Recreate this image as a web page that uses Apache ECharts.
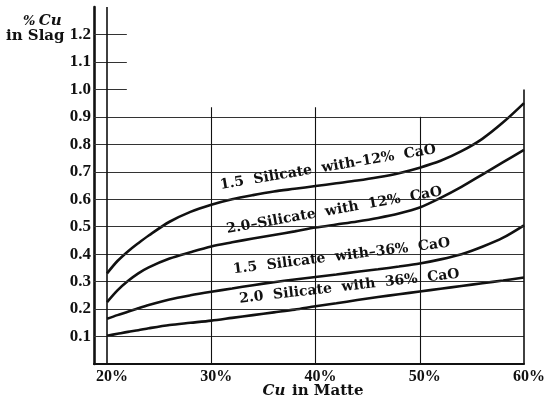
<!DOCTYPE html>
<html>
<head>
<meta charset="utf-8">
<script src="https://cdn.jsdelivr.net/npm/echarts@6/dist/echarts.min.js"></script>
<style>html,body{margin:0;padding:0;background:#fff}#c{width:548px;height:410px}</style>
</head>
<body>
<div id="c"></div>
<script>
// ---- data ----
const cuMatte = [20, 21, 22, 23, 24, 26, 28, 30, 32, 34, 36, 38, 40, 42, 44, 46, 48, 50, 52, 54, 56, 58, 60];
const sil15Ca12 = [0.33, 0.375, 0.41, 0.44, 0.468, 0.518, 0.554, 0.58, 0.60, 0.615, 0.628, 0.638, 0.648, 0.658, 0.668, 0.68, 0.695, 0.715, 0.74, 0.775, 0.82, 0.88, 0.95];
const sil20Ca12 = [0.225, 0.268, 0.302, 0.33, 0.352, 0.384, 0.407, 0.428, 0.443, 0.457, 0.47, 0.483, 0.497, 0.508, 0.519, 0.532, 0.548, 0.57, 0.605, 0.645, 0.69, 0.735, 0.78];
const sil15Ca36 = [0.165, 0.178, 0.19, 0.203, 0.215, 0.235, 0.25, 0.263, 0.275, 0.287, 0.298, 0.308, 0.317, 0.326, 0.336, 0.345, 0.355, 0.366, 0.381, 0.40, 0.427, 0.46, 0.505];
const sil20Ca36 = [0.103, 0.11, 0.117, 0.123, 0.13, 0.142, 0.15, 0.158, 0.168, 0.178, 0.188, 0.198, 0.21, 0.221, 0.233, 0.244, 0.254, 0.264, 0.274, 0.284, 0.294, 0.304, 0.315];
const seriesNames = ['1.5  Silicate  with–12%  CaO', '2.0–Silicate  with  12%  CaO', '1.5  Silicate  with–36%  CaO', '2.0  Silicate  with  36%  CaO'];
const xTicks = [20, 30, 40, 50, 60];
const yTicksFull = [0.1, 0.2, 0.3, 0.4, 0.5, 0.6, 0.7, 0.8, 0.9];
const yTicksStub = [1.0, 1.1, 1.2];
const xGridTops = [1.3, 0.935, 0.935, 0.9, 1.0];
// label anchors (data coords) and rotation
const labelAnchors = [[41.2, 0.716], [41.8, 0.559], [42.5, 0.392], [43.25, 0.282]];
const labelAngles = [9.5, 10, 7, 6.5];

const X_MIN = 18.75, X_MAX = 60, Y_MIN = 0, Y_MAX = 1.3;
const INK = '#111';
const SERIF = "'DejaVu Serif', 'Liberation Serif', serif";
const NUMF = "'Liberation Serif', 'DejaVu Serif', serif";

const allY = [sil15Ca12, sil20Ca12, sil15Ca36, sil20Ca36];

const gridLines = [];
yTicksFull.forEach(v => gridLines.push([{coord: [X_MIN, v], lineStyle: {color: '#333', width: 1, type: 'solid'}}, {coord: [X_MAX, v]}]));
yTicksStub.forEach(v => gridLines.push([{coord: [X_MIN, v], lineStyle: {color: '#333', width: 1, type: 'solid'}}, {coord: [21.9, v]}]));
xTicks.forEach((x, i) => gridLines.push([{coord: [x, Y_MIN], lineStyle: {color: INK, width: (i === 0 || i === 4) ? 1.6 : 1.1, type: 'solid'}}, {coord: [x, xGridTops[i]]}]));

const series = [{
  type: 'line', data: [], silent: true,
  markLine: {silent: true, symbol: ['none', 'none'], label: {show: false}, animation: false, data: gridLines}
}];
allY.forEach((ys, i) => {
  series.push({
    type: 'line', name: seriesNames[i], smooth: 0.3, symbol: 'none', animation: false,
    lineStyle: {color: INK, width: 2.6},
    data: cuMatte.map((x, j) => [x, ys[j]]),
    markPoint: {
      symbol: 'circle', symbolSize: 0, animation: false,
      data: [{coord: labelAnchors[i], value: 0}],
      label: {show: true, position: 'inside', formatter: seriesNames[i], rotate: labelAngles[i],
        color: INK, fontFamily: SERIF, fontSize: 14, fontWeight: 'bold'}
    }
  });
});

const chart = echarts.init(document.getElementById('c'), null, {renderer: 'canvas'});
chart.setOption({
  backgroundColor: '#fff',
  animation: false,
  grid: {left: 94, right: 23, top: 7, bottom: 46, containLabel: false},
  xAxis: {
    type: 'value', min: X_MIN, max: X_MAX, interval: 1.25,
    axisLine: {show: true, onZero: false, lineStyle: {color: INK, width: 2.2}},
    axisTick: {show: false}, splitLine: {show: false},
    axisLabel: {
      interval: 0, margin: 5, padding: [0, 0, 0, 10], color: INK, fontFamily: NUMF, fontWeight: 'bold', fontSize: 16,
      formatter: v => (xTicks.some(t => Math.abs(t - v) < 1e-6) ? Math.round(v) + '%' : '')
    }
  },
  yAxis: {
    type: 'value', min: Y_MIN, max: Y_MAX, interval: 0.1,
    axisLine: {show: true, lineStyle: {color: INK, width: 2.6}},
    axisTick: {show: false}, splitLine: {show: false},
    axisLabel: {
      margin: 3, color: INK, fontFamily: NUMF, fontWeight: 'bold', fontSize: 17,
      formatter: v => (v < 0.05 || v > 1.25) ? '' : v.toFixed(1)
    }
  },
  graphic: [
    {type: 'text', left: 23, top: 14, style: {
      text: '{p|%} {c|Cu}', rich: {
        p: {fontFamily: SERIF, fontWeight: 'bold', fontStyle: 'italic', fontSize: 13, fill: INK},
        c: {fontFamily: SERIF, fontWeight: 'bold', fontStyle: 'italic', fontSize: 15, fill: INK}
      }}},
    {type: 'text', left: 6, top: 29, style: {text: 'in Slag', fontFamily: SERIF, fontWeight: 'bold', fontSize: 15, fill: INK}},
    {type: 'text', x: 313, y: 391, style: {
      text: '{c|Cu}  {m|in Matte}', align: 'center', verticalAlign: 'middle', rich: {
        c: {fontFamily: SERIF, fontWeight: 'bold', fontStyle: 'italic', fontSize: 15, fill: INK},
        m: {fontFamily: SERIF, fontWeight: 'bold', fontSize: 15, fill: INK}
      }}}
  ],
  series: series
});
</script>
</body>
</html>
